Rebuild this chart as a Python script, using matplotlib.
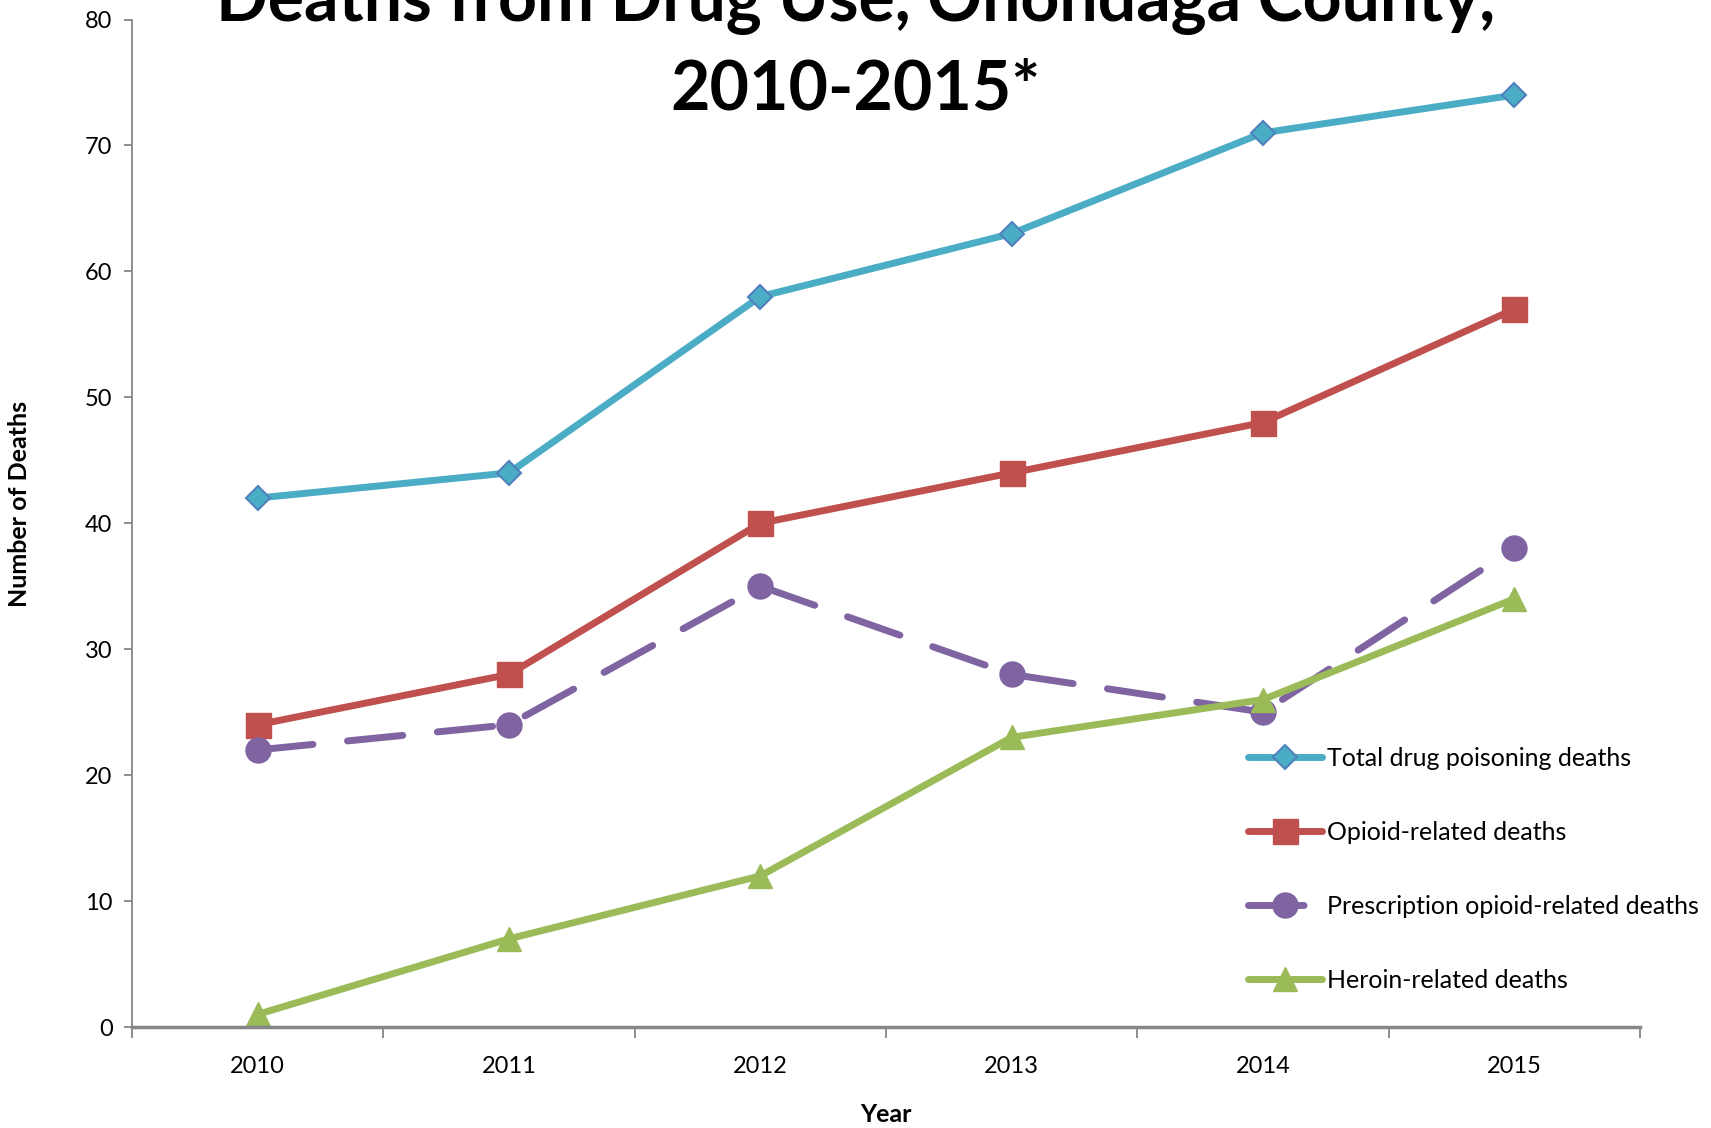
import matplotlib.pyplot as plt
import numpy as np

plt.rcParams['font.family'] = ['Lato', 'DejaVu Sans']

years = ['2010', '2011', '2012', '2013', '2014', '2015']
total_deaths = [42, 44, 58, 63, 71, 74]
opioid_deaths = [24, 28, 40, 44, 48, 57]
rx_opioid_deaths = [22, 24, 35, 28, 25, 38]
heroin_deaths = [1, 7, 12, 23, 26, 34]

W, H = 1711, 1128
fig = plt.figure(figsize=(W / 100, H / 100), dpi=100)
ax = fig.add_axes([132 / W, 1 - 1027 / H, (1640 - 132) / W, (1027 - 19.5) / H])

x = np.arange(len(years))
lw = 5

ax.plot(x, total_deaths, color='#4BACC6', lw=lw, marker='D', ms=12,
        mfc='#4BACC6', mec='#4F81BD', mew=1.5, solid_capstyle='round',
        label='Total drug poisoning deaths', clip_on=False)
ax.plot(x, opioid_deaths, color='#C0504D', lw=lw, marker='s', ms=18,
        mfc='#C0504D', mec='#C0504D', solid_capstyle='round',
        label='Opioid-related deaths', clip_on=False)
ax.plot(x, rx_opioid_deaths, color='#8064A2', lw=lw, marker='o', ms=18,
        mfc='#8064A2', mec='#8064A2', dashes=(8, 5), dash_capstyle='round',
        label='Prescription opioid-related deaths', clip_on=False)
ax.plot(x, heroin_deaths, color='#9BBB59', lw=lw, marker='^', ms=17,
        mfc='#9BBB59', mec='#9BBB59', solid_capstyle='round',
        label='Heroin-related deaths', clip_on=False)

ax.set_xlim(-0.5, len(years) - 0.5)
ax.set_ylim(0, 80)
ax.set_yticks(np.arange(0, 81, 10))
ax.set_xticks(x)
ax.set_xticklabels(years)
ax.set_xticks(np.arange(-0.5, len(years)), minor=True)

for s in ['top', 'right']:
    ax.spines[s].set_visible(False)
ax.spines['left'].set_color('#868686')
ax.spines['left'].set_linewidth(1.3)
ax.spines['bottom'].set_color('#868686')
ax.spines['bottom'].set_linewidth(2.5)

ax.tick_params(axis='y', length=6, width=1.3, color='#868686', labelsize=17, pad=8)
ax.tick_params(axis='x', which='major', length=0, labelsize=17, pad=21)
ax.tick_params(axis='x', which='minor', length=8, width=1.3, color='#868686')

fig.text(20 / W, 1 - 504 / H, 'Number of Deaths', rotation=90, ha='center',
         va='center', fontsize=18, fontweight='bold')
fig.text(886 / W, 1 - 1115 / H, 'Year', ha='center', va='center',
         fontsize=18, fontweight='bold')

# two-line title, the first line runs off the top edge
fig.text(0.5, 1 - 121 / H, 'Deaths from Drug Use, Onondaga County,\n2010-2015*',
         ha='center', va='bottom', fontsize=49, fontweight='bold',
         linespacing=1.45)

ax.legend(loc='upper left', bbox_to_anchor=(1248 / W, 1 - 747 / H),
          bbox_transform=fig.transFigure, frameon=False, fontsize=18,
          handlelength=2.96, handletextpad=0.2, labelspacing=2.04,
          borderpad=0, borderaxespad=0)

fig.savefig('out.png', dpi=100)
